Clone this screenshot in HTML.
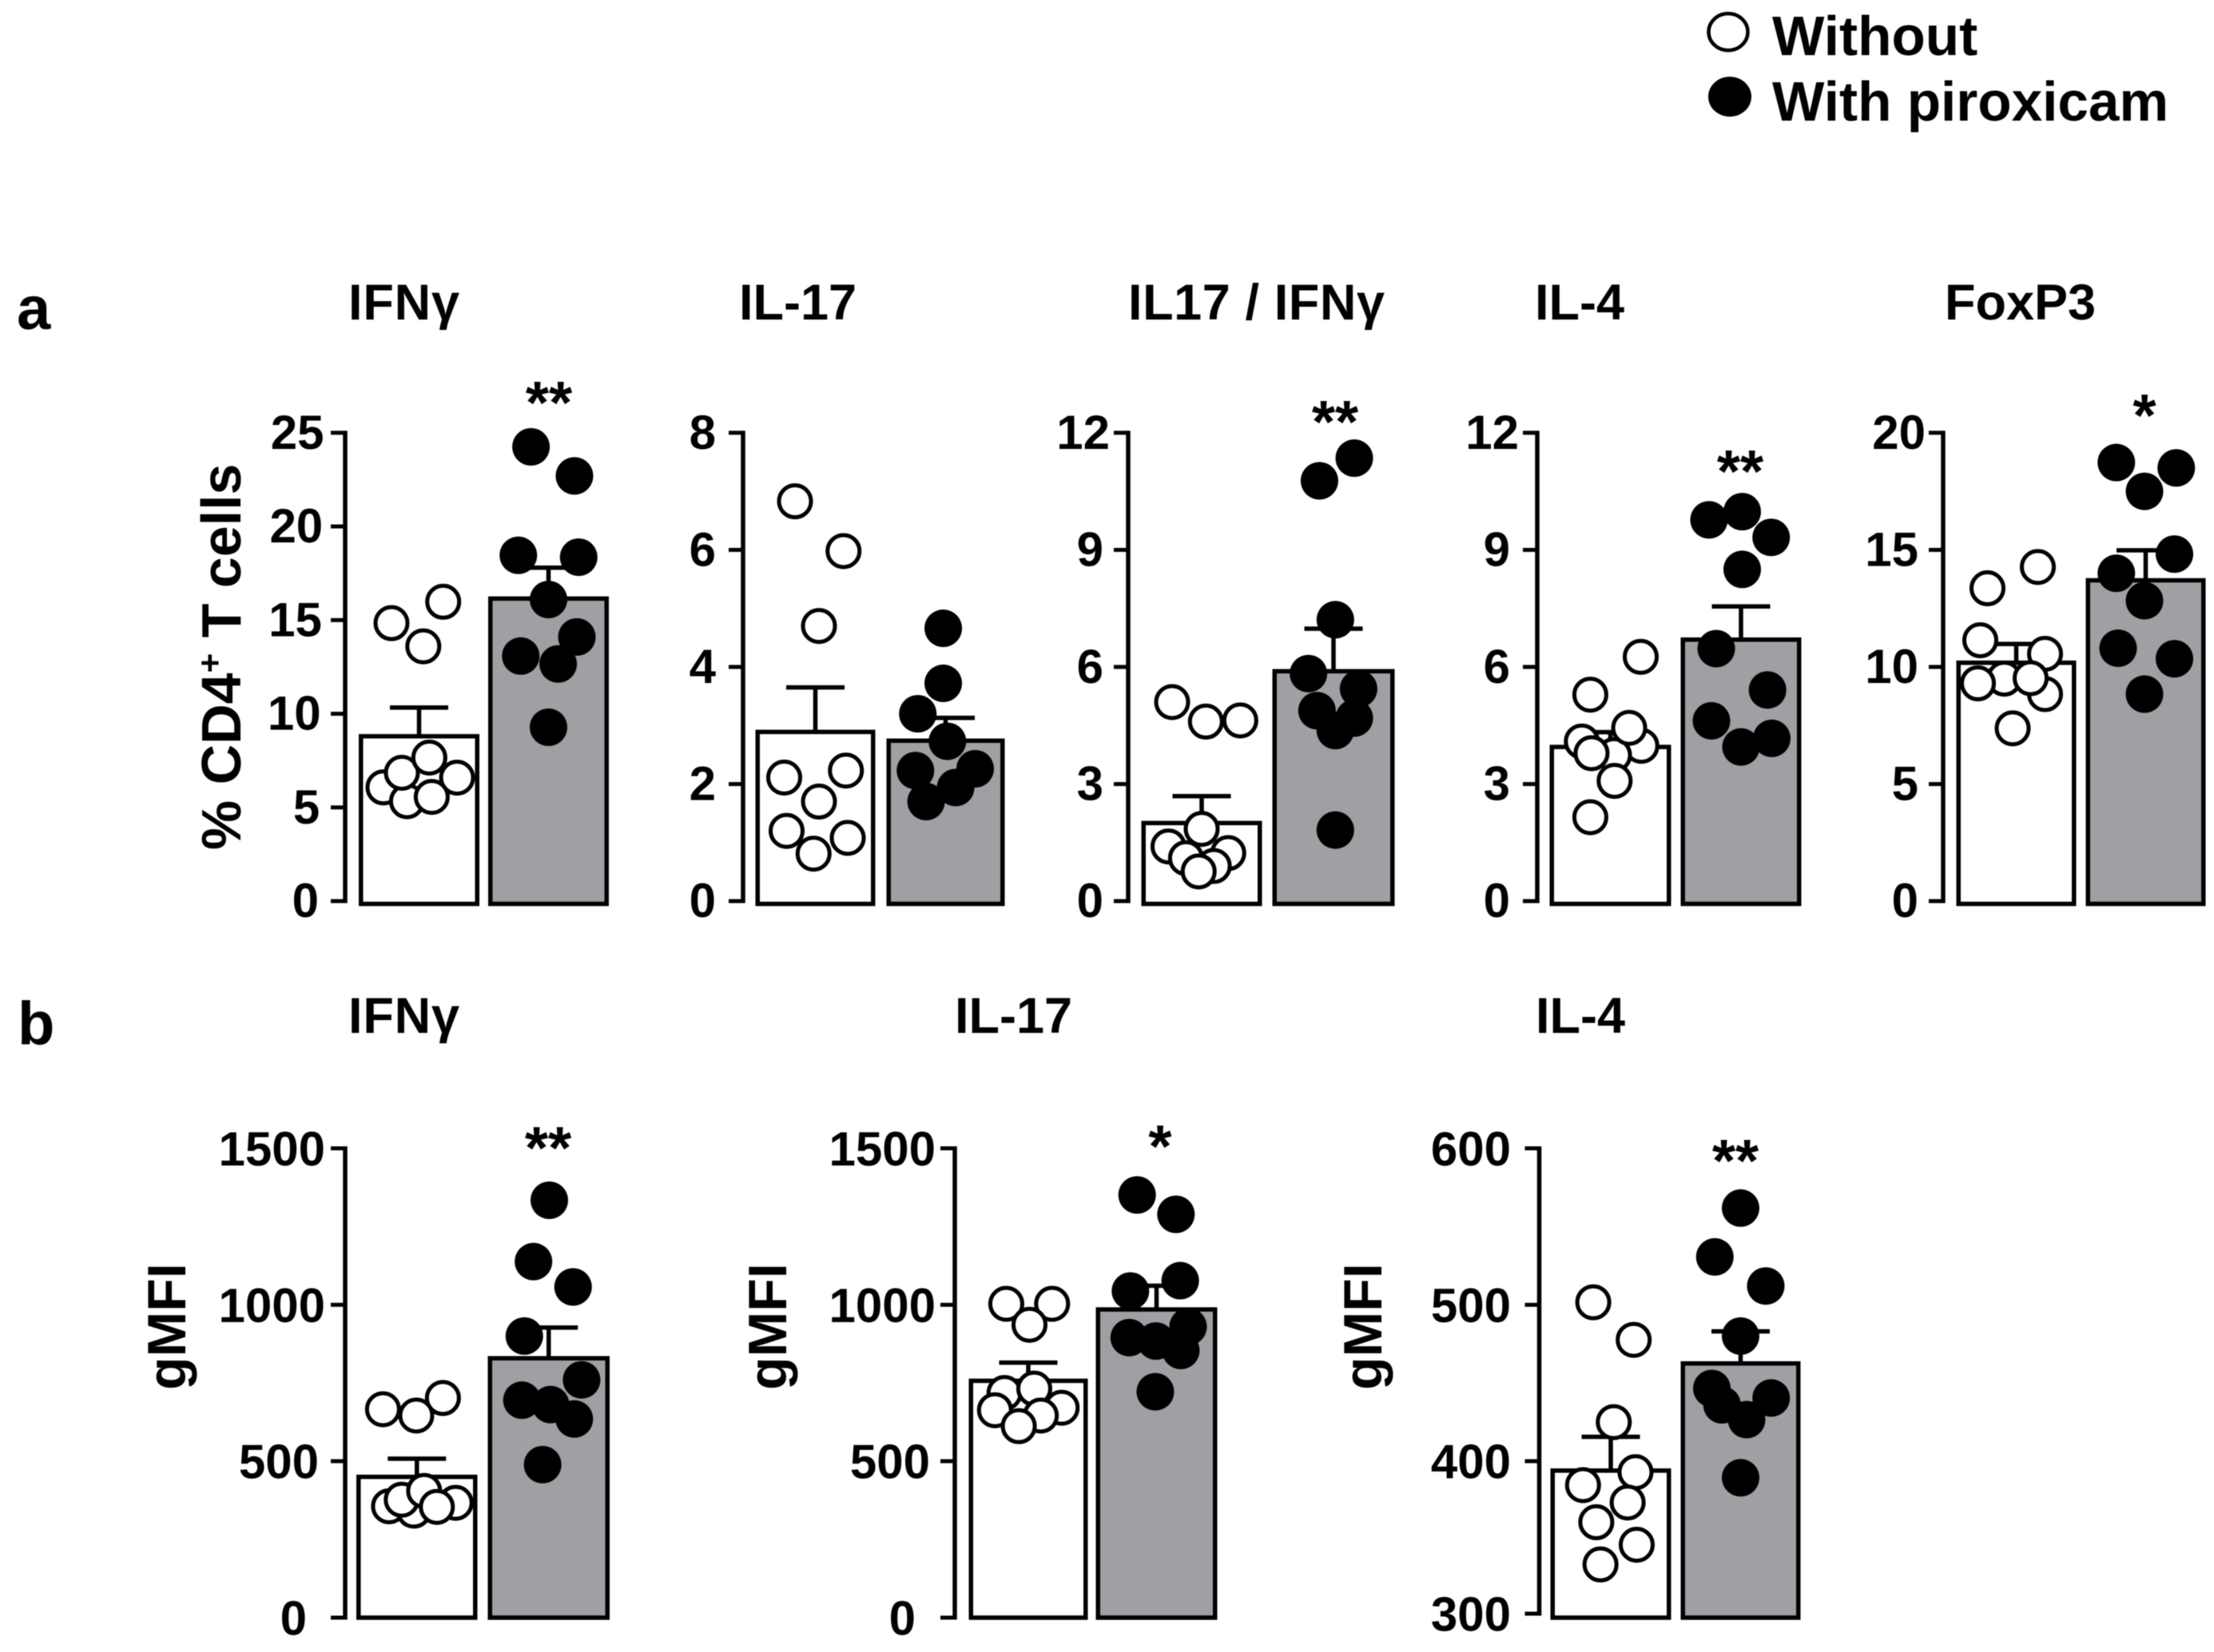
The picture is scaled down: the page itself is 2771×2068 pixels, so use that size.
<!DOCTYPE html>
<html lang="en">
<head>
<meta charset="utf-8">
<title>Piroxicam effects on CD4+ T cells</title>
<style>
html,body{margin:0;padding:0;background:#fff;}
svg{display:block;filter:blur(0.6px);}
text{font-family:"Liberation Sans",Arial,sans-serif;font-weight:700;fill:#000;}
</style>
</head>
<body>
<svg id="figure" xmlns="http://www.w3.org/2000/svg" width="2771" height="2068" viewBox="0 0 2771 2068">
  <rect x="0" y="0" width="2771" height="2068" fill="#fff"/>
  <g>
    <g>
      <ellipse cx="2163" cy="40" rx="24.5" ry="23" fill="#fff" stroke="#000" stroke-width="4.5"/>
      <text x="2218" y="69" font-size="69.3">Without</text>
    </g>
    <g>
      <ellipse cx="2165" cy="121" rx="27" ry="25" fill="#000"/>
      <text x="2218" y="151" font-size="69.3">With piroxicam</text>
    </g>
  </g>
  <text x="21" y="412" font-size="76">a</text>
  <text x="22" y="1307" font-size="76">b</text>
  <text x="436" y="400" font-size="63" textLength="139" lengthAdjust="spacing">IFNγ</text>
  <text x="925" y="400" font-size="63">IL-17</text>
  <text x="1412" y="400" font-size="63" textLength="321" lengthAdjust="spacing">IL17 / IFNγ</text>
  <text x="1921" y="400" font-size="63">IL-4</text>
  <text x="2434" y="400" font-size="63">FoxP3</text>
  <text x="436" y="1293" font-size="63" textLength="139" lengthAdjust="spacing">IFNγ</text>
  <text x="1195" y="1293" font-size="63">IL-17</text>
  <text x="1922" y="1293" font-size="63">IL-4</text>
  <text transform="translate(301,1064) rotate(-90)" font-size="70">% CD4<tspan dy="-24" font-size="42">+</tspan><tspan dy="24"> T cells</tspan></text>
  <text transform="translate(232,1740) rotate(-90)" font-size="68">gMFI</text>
  <text transform="translate(984,1740) rotate(-90)" font-size="68">gMFI</text>
  <text transform="translate(1729,1740) rotate(-90)" font-size="68">gMFI</text>
  <g id="panels"></g>
</svg>
<script>
// ---------- Data ----------
const categories = ['Without', 'With piroxicam'];

const aIfngTicks = [0, 5, 10, 15, 20, 25];
const aIfngMeans = [8.8, 16.15];
const aIfngErrorTops = [10.33, 17.8];
const aIfngWithout = [6.07, 6.59, 5.33, 6.85, 14.84, 15.98, 13.6, 7.66, 5.56];
const aIfngWithoutJitter = [-0.59, 0.63, -0.2, -0.285, -0.457, 0.4, 0.07, 0.17, 0.21];
const aIfngWith = [24.25, 22.7, 18.46, 18.36, 16.1, 14.1, 13.08, 12.66, 9.28];
const aIfngWithJitter = [-0.29, 0.43, -0.5, 0.5, 0, 0.47, -0.46, 0.16, 0];

const aIl17Ticks = [0, 2, 4, 6, 8];
const aIl17Means = [2.89, 2.74];
const aIl17ErrorTops = [3.65, 3.13];
const aIl17Without = [6.83, 5.98, 4.7, 2.11, 2.23, 1.7, 1.2, 1.08, 0.81];
const aIl17WithoutJitter = [-0.34, 0.47, 0.06, -0.52, 0.51, 0.06, -0.48, 0.54, -0.03];
const aIl17With = [4.66, 3.72, 3.2, 2.73, 2.23, 2.26, 1.94, 1.7];
const aIl17WithJitter = [-0.04, -0.04, -0.47, 0.03, -0.51, 0.5, 0.17, -0.33];

const aRatioTicks = [0, 3, 6, 9, 12];
const aRatioMeans = [2.0, 5.89];
const aRatioErrorTops = [2.69, 6.98];
const aRatioWithout = [5.1, 4.6, 4.63, 1.4, 1.23, 0.9, 1.1, 0.76, 1.85];
const aRatioWithoutJitter = [-0.49, 0.07, 0.64, -0.55, 0.44, 0.2, -0.26, -0.05, 0];
const aRatioWith = [11.35, 10.77, 7.21, 5.83, 5.44, 4.88, 4.69, 4.37, 1.82];
const aRatioWithJitter = [0.34, -0.23, 0.03, -0.41, 0.41, -0.27, 0.34, 0.03, 0.03];

const aIl4Ticks = [0, 3, 6, 9, 12];
const aIl4Means = [3.95, 6.7];
const aIl4ErrorTops = [4.33, 7.55];
const aIl4Without = [6.26, 5.29, 4.09, 3.98, 3.74, 4.44, 3.79, 3.08, 2.15];
const aIl4WithoutJitter = [0.5, -0.33, -0.47, 0.51, 0.06, 0.31, -0.31, 0.07, -0.33];
const aIl4With = [9.98, 9.77, 9.32, 8.5, 6.47, 5.41, 4.62, 4.17, 3.95];
const aIl4WithJitter = [0.02, -0.53, 0.5, 0.02, -0.41, 0.44, -0.49, 0.51, 0];

const aFoxp3Ticks = [0, 5, 10, 15, 20];
const aFoxp3Means = [10.18, 13.7];
const aFoxp3ErrorTops = [10.98, 14.98];
const aFoxp3Without = [14.27, 13.36, 11.14, 8.84, 9.5, 10.56, 9.52, 9.3, 7.38];
const aFoxp3WithoutJitter = [0.36, -0.48, -0.6, 0.48, -0.2, 0.48, 0.24, -0.64, -0.06];
const aFoxp3With = [18.73, 18.5, 17.5, 14.82, 14.0, 12.83, 10.8, 10.35, 8.84];
const aFoxp3WithJitter = [-0.49, 0.51, -0.02, 0.48, -0.49, -0.02, -0.46, 0.48, -0.02];

const bIfngTicks = [0, 500, 1000, 1500];
const bIfngMeans = [450, 829];
const bIfngErrorTops = [508, 927];
const bIfngWithout = [702, 666, 646, 367, 356, 342, 377, 405, 354];
const bIfngWithoutJitter = [0.43, -0.56, -0.01, 0.64, -0.46, -0.05, -0.25, 0.12, 0.33];
const bIfngWith = [1334, 1138, 1057, 900, 760, 695, 681, 635, 489];
const bIfngWithJitter = [0.01, -0.25, 0.4, -0.4, 0.54, -0.44, 0.03, 0.42, -0.1];

const bIl17Ticks = [0, 500, 1000, 1500];
const bIl17Means = [757, 985];
const bIl17ErrorTops = [815, 1061];
const bIl17Without = [1003, 1003, 936, 718, 671, 732, 663, 646, 612];
const bIl17WithoutJitter = [-0.37, 0.4, 0.02, -0.4, 0.56, 0.1, -0.56, 0.21, -0.16];
const bIl17With = [1351, 1289, 1077, 1044, 930, 895, 884, 854, 722];
const bIl17WithJitter = [-0.32, 0.32, 0.39, -0.43, 0.52, -0.45, -0.01, 0.4, -0.02];

const bIl4Ticks = [300, 400, 500, 600];
const bIl4Means = [394, 462.5];
const bIl4ErrorTops = [415.6, 483];
const bIl4Without = [501.6, 477.6, 425, 393, 384.7, 373.6, 361, 346.6, 334];
const bIl4WithoutJitter = [-0.29, 0.38, 0.05, 0.41, -0.46, 0.28, -0.24, 0.43, -0.17];
const bIl4With = [561.8, 530.6, 512, 480, 446.5, 436, 426.6, 440.4, 389.4];
const bIl4WithJitter = [0, -0.43, 0.42, 0, -0.48, -0.31, 0.1, 0.51, 0];

const significanceLabels = ['**', '', '**', '**', '*', '**', '*', '**'];

// ---------- Panel layout (frame geometry only) ----------
const rowA = { top: 541.8, bottom: 1128, barBase: 1131.5, labelDrop: 20 };
const rowB = { top: 1437.5, bottom: 2025, barBase: 2025, labelDrop: 21.5 };

const panelDefs = [
  { id: 'a-ifng', row: rowA, axisX: 432, barW: [449, 600], barG: [611, 762], ticks: aIfngTicks, means: aIfngMeans, errs: aIfngErrorTops, w: aIfngWithout, wj: aIfngWithoutJitter, g: aIfngWith, gj: aIfngWithJitter, labelEnd: (t, i) => 399 + i * 1.3, sigX: 687, sigTop: 476 },
  { id: 'a-il17', row: rowA, axisX: 930, barW: [945.5, 1095.5], barG: [1109.5, 1257.5], ticks: aIl17Ticks, means: aIl17Means, errs: aIl17ErrorTops, w: aIl17Without, wj: aIl17WithoutJitter, g: aIl17With, gj: aIl17WithJitter, labelEnd: () => 896, sigX: 0, sigTop: 0 },
  { id: 'a-il17-ifng', row: rowA, axisX: 1412, barW: [1428.5, 1579.5], barG: [1592.5, 1745.5], ticks: aRatioTicks, means: aRatioMeans, errs: aRatioErrorTops, w: aRatioWithout, wj: aRatioWithoutJitter, g: aRatioWith, gj: aRatioWithJitter, labelEnd: (t) => t >= 10 ? 1389 : 1381, sigX: 1671, sigTop: 500 },
  { id: 'a-il4', row: rowA, axisX: 1924, barW: [1939.5, 2091.5], barG: [2103.5, 2254.5], ticks: aIl4Ticks, means: aIl4Means, errs: aIl4ErrorTops, w: aIl4Without, wj: aIl4WithoutJitter, g: aIl4With, gj: aIl4WithJitter, labelEnd: (t) => t >= 10 ? 1901 : 1890, sigX: 2178, sigTop: 562 },
  { id: 'a-foxp3', row: rowA, axisX: 2432, barW: [2448.5, 2598.5], barG: [2610.5, 2760.5], ticks: aFoxp3Ticks, means: aFoxp3Means, errs: aFoxp3ErrorTops, w: aFoxp3Without, wj: aFoxp3WithoutJitter, g: aFoxp3With, gj: aFoxp3WithJitter, labelEnd: (t) => t >= 20 ? 2410 : 2401, sigX: 2684, sigTop: 492 },
  { id: 'b-ifng', row: rowB, axisX: 432, barW: [446, 597.5], barG: [610.5, 763], ticks: bIfngTicks, means: bIfngMeans, errs: bIfngErrorTops, w: bIfngWithout, wj: bIfngWithoutJitter, g: bIfngWith, gj: bIfngWithJitter, labelEnd: (t) => t >= 1000 ? 407 : (t >= 500 ? 399 : 384), sigX: 686, sigTop: 1409 },
  { id: 'b-il17', row: rowB, axisX: 1195, barW: [1212.5, 1361.5], barG: [1371.5, 1523.5], ticks: bIl17Ticks, means: bIl17Means, errs: bIl17ErrorTops, w: bIl17Without, wj: bIl17WithoutJitter, g: bIl17With, gj: bIl17WithJitter, labelEnd: (t) => t >= 1000 ? 1171 : (t >= 500 ? 1164 : 1146), sigX: 1452, sigTop: 1407 },
  { id: 'b-il4', row: rowB, axisX: 1926.5, barW: [1940.5, 2091.5], barG: [2103.5, 2253.5], ticks: bIl4Ticks, means: bIl4Means, errs: bIl4ErrorTops, w: bIl4Without, wj: bIl4WithoutJitter, g: bIl4With, gj: bIl4WithJitter, labelEnd: () => 1891, sigX: 2172, sigTop: 1425, axisEndLift: 5 }
];

// ---------- Rendering ----------
const NS = 'http://www.w3.org/2000/svg';
const root = document.getElementById('panels');

function make(tag, parent, attrs) {
  const el = document.createElementNS(NS, tag);
  for (const k in attrs) el.setAttribute(k, attrs[k]);
  parent.appendChild(el);
  return el;
}

function drawPanel(p, sig) {
  const g = make('g', root, {});
  
  

  const lo = p.ticks[0];
  const hi = p.ticks[p.ticks.length - 1];
  const y = (v) => p.row.bottom - (v - lo) / (hi - lo) * (p.row.bottom - p.row.top);
  const lift = p.axisEndLift || 0;

  // y axis
  const axis = make('line', g, { x1: p.axisX, x2: p.axisX, y1: p.row.top - 2.5, y2: p.row.bottom - lift + 2.5, stroke: '#000', 'stroke-width': 5.5 });
  
  

  p.ticks.forEach((t, i) => {
    const ty = y(t) - (i === 0 ? lift : 0);
    const tick = make('line', g, { x1: p.axisX - 18, x2: p.axisX, y1: ty, y2: ty, stroke: '#000', 'stroke-width': 5 });
    
    
    const label = make('text', g, { x: p.labelEnd(t, i), y: ty + p.row.labelDrop, 'text-anchor': 'end', 'font-size': 60 });
    label.textContent = String(t);
    
    
  });

  // bars + error bars
  const groups = [
    { range: p.barW, fill: '#ffffff', vals: p.w, jit: p.wj, key: 'without' },
    { range: p.barG, fill: '#a0a0a4', vals: p.g, jit: p.gj, key: 'with-piroxicam' }
  ];
  const SW = 5.5;
  groups.forEach((grp, i) => {
    const left = grp.range[0] + SW / 2;
    const right = grp.range[1] - SW / 2;
    const cx = (grp.range[0] + grp.range[1]) / 2;
    const half = (grp.range[1] - grp.range[0]) / 2;
    const barTop = y(p.means[i]);
    const errTop = y(p.errs[i]);

    const stem = make('line', g, { x1: cx, x2: cx, y1: errTop, y2: barTop, stroke: '#000', 'stroke-width': 5.5 });
    
    
    const cap = make('line', g, { x1: cx - 36.5, x2: cx + 36.5, y1: errTop, y2: errTop, stroke: '#000', 'stroke-width': 5.5 });
    
    

    const bar = make('rect', g, { x: left, y: barTop, width: right - left, height: p.row.barBase - barTop, fill: grp.fill, stroke: '#000', 'stroke-width': SW });
    
    

    grp.vals.forEach((v, k) => {
      const px = cx + grp.jit[k] * half;
      const attrs = i === 0
        ? { cx: px, cy: y(v), r: 20, fill: '#fff', stroke: '#000', 'stroke-width': 5 }
        : { cx: px, cy: y(v), r: 23.5, fill: '#000' };
      const pt = make('circle', g, attrs);
      
      
    });
  });

  // significance stars
  if (sig) {
    const s = make('text', g, { x: p.sigX, y: p.sigTop + 54, 'text-anchor': 'middle', 'font-size': 75 });
    s.textContent = sig;
    
    
  }
}

panelDefs.forEach((p, i) => drawPanel(p, significanceLabels[i]));
</script>
</body>
</html>
